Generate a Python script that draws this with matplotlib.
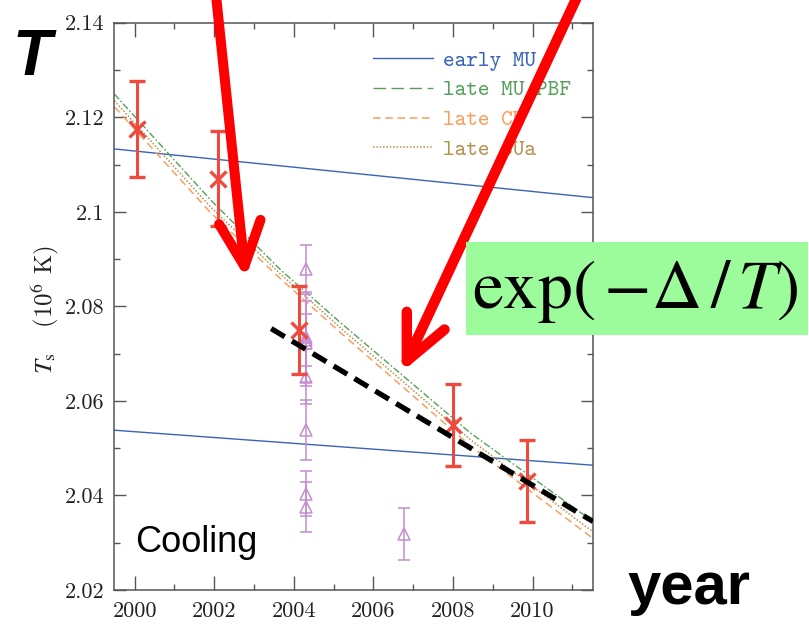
import matplotlib
matplotlib.use('Agg')
import matplotlib.pyplot as plt
from matplotlib.lines import Line2D
from matplotlib.patches import Rectangle
from matplotlib.ticker import MultipleLocator, FuncFormatter

plt.rcParams['mathtext.fontset'] = 'stix'

# observed surface temperature (red crosses)
obs_year = [2000.07, 2002.09, 2004.12, 2007.99, 2009.87]
obs_temp = [2.1175, 2.1070, 2.0750, 2.0549, 2.0430]
obs_err = [0.0101, 0.0100, 0.0093, 0.0087, 0.0087]

# other fits (purple triangles)
tri_year = [2004.30, 2004.30, 2004.30, 2004.30, 2004.30, 2004.30, 2004.30, 2004.30, 2006.76]
tri_temp = [2.0878, 2.0735, 2.0728, 2.0722, 2.0651, 2.0538, 2.0404, 2.0376, 2.0318]
tri_err = [0.0052, 0.0095, 0.0055, 0.0090, 0.0058, 0.0063, 0.0048, 0.0053, 0.0055]

# model curves
early_year = [1999.49, 2011.52]
early_upper = [2.1133, 2.1030]
early_lower = [2.0538, 2.0464]

late_year = [1999.49, 2001.91, 2003.67, 2005.18, 2008.44, 2011.52]
late_mu_pbf = [2.1249, 2.1025, 2.0877, 2.0765, 2.0532, 2.0345]
late_cu = [2.1222, 2.0998, 2.0858, 2.0744, 2.0505, 2.0309]
late_cua = [2.1235, 2.1010, 2.0868, 2.0754, 2.0518, 2.0323]

exp_year = [2003.43, 2011.52]
exp_temp = [2.0753, 2.0345]

red = '#ee4b3e'
purple = '#c48ccd'
blue = '#3a63b8'
green = '#55a05a'
orange = '#f7a060'
tan = '#b8904e'

fig = plt.figure(figsize=(8.09, 6.26), dpi=100)
ax = fig.add_axes([0.1414, 0.0575, 0.5916, 0.9062])

ax.plot(early_year, early_upper, color=blue, lw=1.0, zorder=2)
ax.plot(early_year, early_lower, color=blue, lw=1.0, zorder=2)
ax.plot(late_year, late_mu_pbf, color=green, lw=1.0, dashes=(5, 1.6, 1.2, 1.6), zorder=2)
ax.plot(late_year, late_cu, color=orange, lw=1.1, dashes=(5, 3), zorder=2)
ax.plot(late_year, late_cua, color=tan, lw=1.1, dashes=(1, 1.2), zorder=2)

ax.errorbar(tri_year, tri_temp, yerr=tri_err, fmt='^', mfc='none', mec=purple,
            ms=8, mew=1.1, ecolor=purple, elinewidth=1.1, capsize=4.5,
            capthick=1.1, zorder=3)
ax.errorbar(obs_year, obs_temp, yerr=obs_err, fmt='x', color=red, ms=11,
            mew=2.4, elinewidth=2.2, capsize=6, capthick=2.2, zorder=4)

ax.plot(exp_year, exp_temp, color='black', lw=3.8, dashes=(3, 1.6), zorder=6)

ax.set_xlim(1999.49, 2011.52)
ax.set_ylim(2.02, 2.14)
ax.xaxis.set_major_locator(MultipleLocator(2))
ax.xaxis.set_minor_locator(MultipleLocator(1))
ax.yaxis.set_major_locator(MultipleLocator(0.02))
ax.yaxis.set_minor_locator(MultipleLocator(0.01))
ax.yaxis.set_major_formatter(FuncFormatter(lambda v, p: '{:g}'.format(round(v, 4))))

spine_col = '#555555'
for s in ax.spines.values():
    s.set_color(spine_col)
    s.set_linewidth(1.1)
ax.tick_params(which='both', direction='in', top=True, right=True,
               color=spine_col, width=1.0, labelsize=16)
ax.tick_params(axis='x', which='major', length=10, pad=8)
ax.tick_params(axis='y', which='major', length=8.6, pad=7)
ax.tick_params(which='minor', length=4.5)
for lab in ax.get_xticklabels() + ax.get_yticklabels():
    lab.set_fontfamily('cmr10')
    lab.set_color('#222222')

ax.set_ylabel(r'$T_{\rm s}$   (10$^6$ K)', fontsize=18, fontfamily='cmr10',
              color='#222222')
ax.yaxis.set_label_coords(-0.112, 0.494)

handles = [
    Line2D([], [], color=blue, lw=1.0),
    Line2D([], [], color=green, lw=1.0, dashes=(9, 4)),
    Line2D([], [], color=orange, lw=1.1, dashes=(5, 3)),
    Line2D([], [], color=tan, lw=1.1, dashes=(1, 1.2)),
]
labels = ['early MU', 'late MU/PBF', 'late CU', 'late CUa']
ax.legend(handles, labels, loc='upper left', bbox_to_anchor=(0.54, 0.952),
          frameon=False, borderpad=0, borderaxespad=0, handlelength=2.7,
          handletextpad=0.45, labelspacing=0.42, labelcolor='linecolor',
          prop={'family': 'cmtt10', 'size': 16})

ax.text(0.043, 0.067, 'Cooling', transform=ax.transAxes, fontsize=26,
        fontfamily='Liberation Sans', va='baseline', ha='left')

# red arrows
arrow_style = '->,head_length=1.6,head_width=0.75'
ax.annotate('', xy=(2002.79, 2.0860), xytext=(2002.03, 2.1469),
            arrowprops=dict(arrowstyle=arrow_style, color='#ff0000', lw=7.2,
                            mutation_scale=20, shrinkA=0, shrinkB=0),
            zorder=10)
ax.annotate('', xy=(2006.71, 2.0661), xytext=(2011.20, 2.1469),
            arrowprops=dict(arrowstyle=arrow_style, color='#ff0000', lw=7.5,
                            mutation_scale=20, shrinkA=0, shrinkB=0),
            zorder=10)

box = Rectangle((466 / 809, 1 - 335 / 626), (808 - 466) / 809, (335 - 242) / 626,
                transform=fig.transFigure, facecolor='#9cfc9c', edgecolor='none',
                zorder=2)
fig.add_artist(box)
fig.text(0.785, 1 - 308 / 626, r'$\mathrm{exp}(\,{-}\Delta\,/\,T)$', fontsize=50,
         ha='center', va='baseline', zorder=3)

fig.text(12 / 809, 1 - 75 / 626, 'T', fontsize=46, fontweight='bold',
         fontstyle='italic', fontfamily='Liberation Sans', va='baseline')
fig.text(628 / 809, 1 - 604 / 626, 'year', fontsize=43, fontweight='bold',
         fontfamily='Liberation Sans', va='baseline')

fig.savefig('out.png', dpi=100)
